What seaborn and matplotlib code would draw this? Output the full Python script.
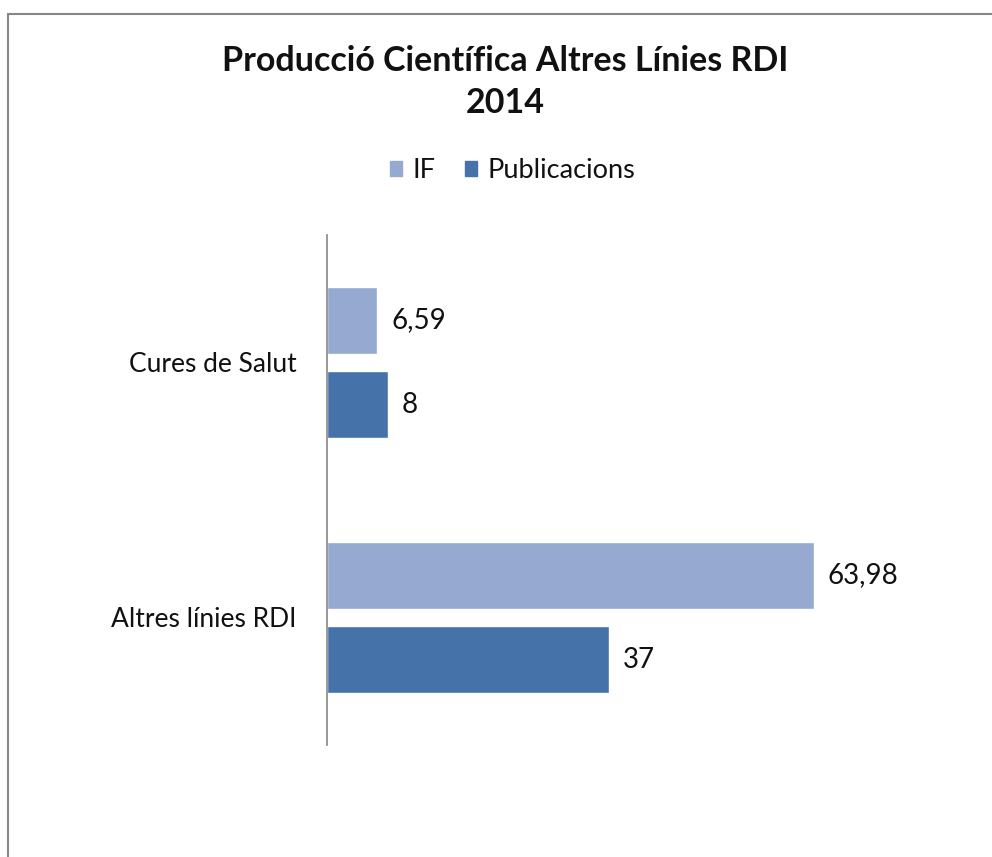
import matplotlib
matplotlib.use("Agg")
import matplotlib.pyplot as plt
from matplotlib.patches import Rectangle
import seaborn as sns
import pandas as pd

categories = ["Cures de Salut", "Altres línies RDI"]
series = ["IF", "Publicacions"]
if_values = [6.59, 63.98]
pub_values = [8, 37]
colors = ["#95A9D1", "#4572A8"]

df = pd.DataFrame({
    "Línia": categories * 2,
    "Sèrie": [series[0]] * 2 + [series[1]] * 2,
    "Valor": if_values + pub_values,
})

sns.set_theme(style="white")
plt.rcParams["font.family"] = ["Lato", "DejaVu Sans"]

fig = plt.figure(figsize=(9.92, 8.57), dpi=100)
ax = fig.add_axes([0.3296, 0.1307, 0.5755, 0.5951])

sns.barplot(data=df, y="Línia", x="Valor", hue="Sèrie", order=categories,
            hue_order=series, palette=colors, saturation=1, orient="h",
            width=0.66, gap=0.2, ax=ax, legend=False)

def fmt(v):
    s = f"{v:.2f}".rstrip("0").rstrip(".")
    return s.replace(".", ",")

for cont in ax.containers:
    for bar in cont:
        w = bar.get_width()
        ax.annotate(fmt(w), (w, bar.get_y() + bar.get_height() / 2),
                    xytext=(10, 0), textcoords="offset points",
                    ha="left", va="center", fontsize=20, color="#111111")

ax.set_xlim(0, 75)
ax.set_ylim(1.5, -0.5)
ax.set_xlabel("")
ax.set_ylabel("")
ax.set_xticks([])
ax.tick_params(axis="y", length=0, pad=22, labelsize=19, labelcolor="#111111")
for s in ["top", "right", "bottom"]:
    ax.spines[s].set_visible(False)
ax.spines["left"].set_color("#868686")
ax.spines["left"].set_linewidth(1.2)

fig.text(0.509, 0.904, "Producció Científica Altres Línies RDI\n2014",
         ha="center", va="center", fontsize=24.5, fontweight="bold",
         color="#111111", linespacing=1.4)

# legend
handles = [Rectangle((0, 0), 1, 1, color=c) for c in colors]
fig.legend(handles, series, loc="center", bbox_to_anchor=(0.5166, 0.801),
           ncol=2, frameon=False, fontsize=19.5, handlelength=0.45,
           handleheight=0.45, handletextpad=0.37, columnspacing=1.1,
           labelcolor="#111111")

# chart border
fig.patches.append(Rectangle((8 / 992, -0.1), 1.2, 1 - 14 / 857 + 0.1,
                             transform=fig.transFigure, fill=False,
                             edgecolor="#868686", linewidth=1.5))

fig.savefig("out.png", dpi=100)
